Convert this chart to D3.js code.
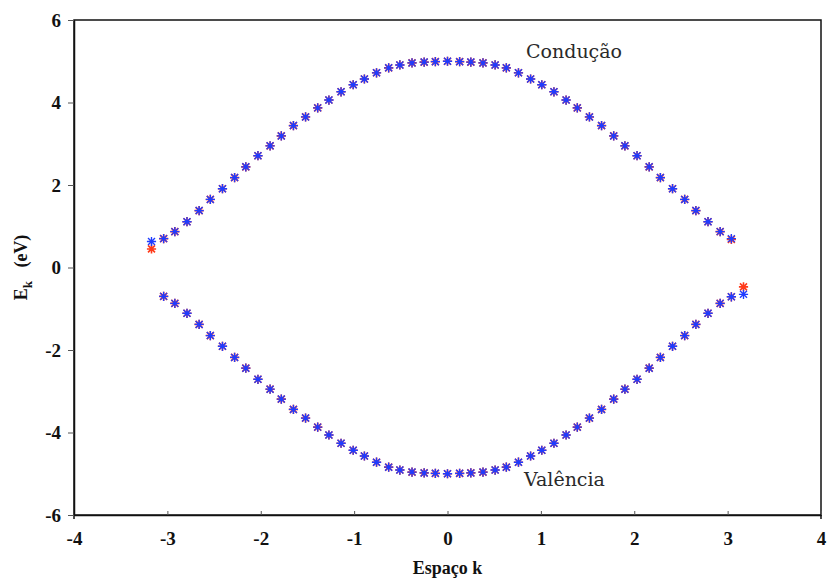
<!DOCTYPE html>
<html>
<head>
<meta charset="utf-8">
<script src="https://cdn.jsdelivr.net/npm/d3@7"></script>
<style>
  html, body { margin: 0; padding: 0; background: #fff; }
  svg { display: block; }
</style>
</head>
<body>
<svg id="chart" width="827" height="582"></svg>
<script>
// k grid (Espaço k)
const kGrid = [-3.17, -3.04, -2.92, -2.79, -2.66, -2.54, -2.41, -2.28, -2.16, -2.03,
  -1.90, -1.78, -1.65, -1.52, -1.39, -1.27, -1.14, -1.01, -0.89, -0.76,
  -0.63, -0.51, -0.38, -0.25, -0.13, 0.00, 0.13, 0.25, 0.38, 0.51,
  0.63, 0.76, 0.89, 1.01, 1.14, 1.27, 1.39, 1.52, 1.65, 1.78,
  1.90, 2.03, 2.16, 2.28, 2.41, 2.54, 2.66, 2.79, 2.92, 3.04, 3.17];

// Conduction band (upper), red and blue series
const condRed = [0.45, 0.70, 0.87, 1.11, 1.38, 1.65, 1.91, 2.18, 2.44, 2.71,
  2.95, 3.19, 3.44, 3.65, 3.87, 4.06, 4.26, 4.43, 4.57, 4.72,
  4.84, 4.91, 4.96, 4.98, 4.99, 5.00, 4.99, 4.98, 4.96, 4.91,
  4.84, 4.72, 4.57, 4.43, 4.26, 4.06, 3.87, 3.65, 3.44, 3.19,
  2.95, 2.71, 2.44, 2.18, 1.91, 1.65, 1.38, 1.11, 0.87, 0.68, null];
const condBlue = [0.63, 0.70, 0.87, 1.11, 1.38, 1.65, 1.91, 2.18, 2.44, 2.71,
  2.95, 3.19, 3.44, 3.65, 3.87, 4.06, 4.26, 4.43, 4.57, 4.72,
  4.84, 4.91, 4.96, 4.98, 4.99, 5.00, 4.99, 4.98, 4.96, 4.91,
  4.84, 4.72, 4.57, 4.43, 4.26, 4.06, 3.87, 3.65, 3.44, 3.19,
  2.95, 2.71, 2.44, 2.18, 1.91, 1.65, 1.38, 1.11, 0.87, 0.70, null];

// Valence band (lower), red and blue series
const valRed = [null, -0.70, -0.87, -1.11, -1.38, -1.65, -1.91, -2.18, -2.44, -2.71,
  -2.95, -3.19, -3.44, -3.65, -3.87, -4.06, -4.26, -4.43, -4.57, -4.72,
  -4.84, -4.91, -4.96, -4.98, -4.99, -5.00, -4.99, -4.98, -4.96, -4.91,
  -4.84, -4.72, -4.57, -4.43, -4.26, -4.06, -3.87, -3.65, -3.44, -3.19,
  -2.95, -2.71, -2.44, -2.18, -1.91, -1.65, -1.38, -1.11, -0.87, -0.71, -0.47];
const valBlue = [null, -0.70, -0.87, -1.11, -1.38, -1.65, -1.91, -2.18, -2.44, -2.71,
  -2.95, -3.19, -3.44, -3.65, -3.87, -4.06, -4.26, -4.43, -4.57, -4.72,
  -4.84, -4.91, -4.96, -4.98, -4.99, -5.00, -4.99, -4.98, -4.96, -4.91,
  -4.84, -4.72, -4.57, -4.43, -4.26, -4.06, -3.87, -3.65, -3.44, -3.19,
  -2.95, -2.71, -2.44, -2.18, -1.91, -1.65, -1.38, -1.11, -0.87, -0.71, -0.65];

const xTicks = [-4, -3, -2, -1, 0, 1, 2, 3, 4];
const yTicks = [-6, -4, -2, 0, 2, 4, 6];
const fmt = v => String(v); // plain hyphen-minus like the original

const W = 827, H = 582;
const m = { left: 74, right: 6, top: 20, bottom: 67 };
const svg = d3.select("#chart");

const x = d3.scaleLinear().domain([-4, 4]).range([m.left, W - m.right]);
const y = d3.scaleLinear().domain([-6, 6]).range([H - m.bottom, m.top]);

const serif = "'Liberation Serif', 'DejaVu Serif', serif";

// frame
svg.append("rect")
  .attr("x", x(-4)).attr("y", y(6))
  .attr("width", x(4) - x(-4)).attr("height", y(-6) - y(6))
  .attr("fill", "none").attr("stroke", "#111").attr("stroke-width", 1.5);

[-4, 4].forEach(v => {
  svg.append("line")
    .attr("x1", x(v)).attr("x2", x(v))
    .attr("y1", y(-6)).attr("y2", y(-6) + 4)
    .attr("stroke", "#111").attr("stroke-width", 1.5);
});

// X axis
const xAxis = d3.axisBottom(x).tickValues(xTicks).tickFormat(fmt)
  .tickSizeInner(-4).tickSizeOuter(0).tickPadding(0);
const gx = svg.append("g").attr("transform", `translate(0,${y(-6)})`).call(xAxis);
gx.attr("font-family", serif).attr("font-size", 19);
gx.select(".domain").attr("stroke", "#111").attr("stroke-width", 1.5);
gx.selectAll(".tick line").attr("stroke", "#555").attr("stroke-width", 1);
gx.selectAll(".tick text")
  .attr("y", 30).attr("dy", 0)
  .attr("font-weight", "bold").attr("fill", "#111");

// Y axis
const yAxis = d3.axisLeft(y).tickValues(yTicks).tickFormat(fmt)
  .tickSizeInner(6).tickSizeOuter(0).tickPadding(7);
const gy = svg.append("g").attr("transform", `translate(${x(-4)},0)`).call(yAxis);
gy.attr("font-family", serif).attr("font-size", 19);
gy.select(".domain").attr("stroke", "#111").attr("stroke-width", 1.5);
gy.selectAll(".tick line").attr("stroke", "#555").attr("stroke-width", 1);
gy.selectAll(".tick text")
  .attr("font-weight", "bold").attr("fill", "#111");

// Axis labels
svg.append("text")
  .attr("x", x(0)).attr("y", 574)
  .attr("text-anchor", "middle")
  .attr("font-family", serif).attr("font-weight", "bold").attr("font-size", 18).attr("fill", "#111")
  .text("Espaço k");

const yl = svg.append("text")
  .attr("transform", `translate(27,${y(0)}) rotate(-90)`)
  .attr("text-anchor", "middle")
  .attr("font-family", serif).attr("font-weight", "bold").attr("font-size", 18).attr("fill", "#111");
yl.append("tspan").text("E");
yl.append("tspan").attr("dy", 5).attr("font-size", 13).text("k");
yl.append("tspan").attr("dy", -5).text("\u00A0\u00A0\u00A0(eV)");

// Band labels
const labFont = "'DejaVu Serif', 'Liberation Serif', serif";
svg.append("text")
  .attr("x", 526).attr("y", 58)
  .attr("font-family", labFont).attr("font-size", 19).attr("fill", "#2a2a2a")
  .text("Condução");
svg.append("text")
  .attr("x", 524).attr("y", 486)
  .attr("font-family", labFont).attr("font-size", 19).attr("fill", "#2a2a2a")
  .text("Valência");

// asterisk marker
const r = 4.6, rd = 3.5;
const starPath = `M${-r},0L${r},0M0,${-r}L0,${r}M${-rd},${-rd}L${rd},${rd}M${-rd},${rd}L${rd},${-rd}`;

function drawSeries(vals, color, sw) {
  const pts = kGrid.map((k, i) => ({ k, v: vals[i] })).filter(d => d.v !== null);
  svg.append("g").selectAll("path").data(pts).join("path")
    .attr("transform", d => `translate(${x(d.k)},${y(d.v)})`)
    .attr("d", starPath)
    .attr("stroke", color).attr("stroke-width", sw).attr("fill", "none");
}

drawSeries(condRed, "#ff3a1a", 1.6);
drawSeries(valRed, "#ff3a1a", 1.6);
drawSeries(condBlue, "#1f3cff", 1.35);
drawSeries(valBlue, "#1f3cff", 1.35);
</script>
</body>
</html>
